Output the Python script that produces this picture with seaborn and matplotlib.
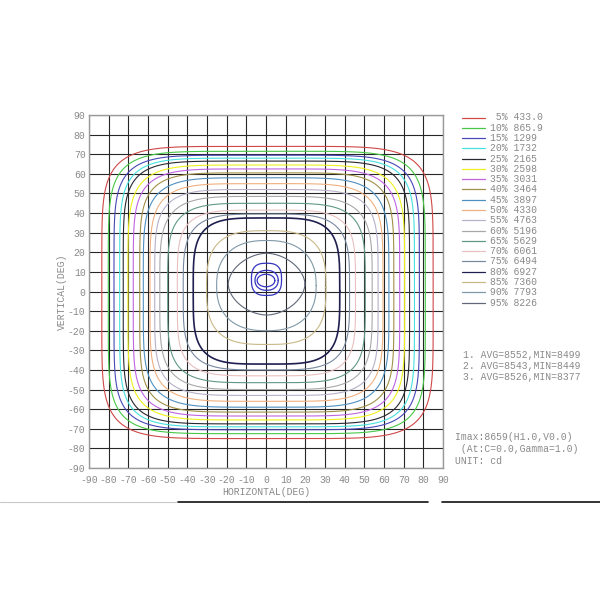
import numpy as np
import pandas as pd
import matplotlib.pyplot as plt
import seaborn as sns

sns.set_style('white')
plt.rcParams['font.family'] = ['Liberation Mono', 'DejaVu Sans Mono']

# isocandela levels (Imax = 8659 cd)
imax = 8659
percents = [5, 10, 15, 20, 25, 30, 35, 40, 45, 50, 55, 60, 65, 70, 75, 80, 85, 90, 95]
level_values = ['433.0', '865.9', '1299', '1732', '2165', '2598', '3031', '3464', '3897',
                '4330', '4763', '5196', '5629', '6061', '6494', '6927', '7360', '7793', '8226']

# contour extents (deg): left/right on H axis, top/bottom on V axis
left_ext = [-83.5, -80.2, -77.3, -74.4, -72.6, -70.2, -67.5, -64.2, -62.4, -59.0,
            -56.6, -54.0, -50.0, -45.1, -42.1, -37.0, -30.2, -25.1, -19.2]
right_ext = [85.0, 81.0, 78.0, 75.5, 73.0, 70.5, 68.0, 65.0, 62.5, 59.5,
             57.0, 54.0, 50.5, 45.5, 42.5, 37.5, 30.5, 25.5, 19.8]
top_ext = [74.0, 71.5, 69.5, 68.0, 66.5, 64.5, 62.5, 60.5, 58.0, 55.0,
           52.0, 48.5, 45.0, 41.5, 39.5, 37.5, 31.0, 26.0, 19.5]
bottom_ext = [-75.0, -72.5, -70.5, -69.0, -67.5, -65.5, -63.5, -61.5, -59.0, -56.0,
              -53.0, -50.0, -46.5, -43.0, -40.0, -37.0, -27.0, -20.0, -12.0]
# squareness of each contour
squareness = [6, 6, 6, 6, 6, 5.5, 5.5, 5.5, 5, 5, 5, 4.5, 4.5, 4.5, 4, 4, 3, 2.4, 1.8]

level_colors = ['#d04848', '#48c848', '#4848b8', '#48e0e0', '#282830', '#f0f020',
                '#c064e0', '#a09048', '#5090c0', '#f0b080', '#b8b0c8', '#a8a8a8',
                '#609888', '#e8c0c0', '#7888a0', '#202050', '#c8b888', '#8098a8', '#606878']

# small peak rings near the centre (h left, h right, v top, v bottom)
ring_left = [-7.4, -5.6, -4.5]
ring_right = [7.9, 6.2, 4.5]
ring_top = [14.4, 10.8, 8.8]
ring_bottom = [-2.0, 0.6, 2.4]
ring_shape = [2.8, 2.2, 2.0]

stats = ['1. AVG=8552,MIN=8499', '2. AVG=8543,MIN=8449', '3. AVG=8526,MIN=8377']
info = ['Imax:8659(H1.0,V0.0)', ' (At:C=0.0,Gamma=1.0)', 'UNIT: cd']


def contour_frame(l, r, t, b, n):
    # closed curve through the four read extents
    th = np.linspace(0, 2 * np.pi, 400)
    c, s = np.cos(th), np.sin(th)
    hc, vc = (l + r) / 2, (t + b) / 2
    h = hc + np.sign(c) * np.abs(c) ** (2.0 / n) * (r - l) / 2
    v = vc + np.sign(s) * np.abs(s) ** (2.0 / n) * (t - b) / 2
    return pd.DataFrame({'H': h, 'V': v})


fig = plt.figure(figsize=(6, 6), dpi=100)
ax = fig.add_axes([89 / 600, 132 / 600, 354 / 600, 353 / 600])

for i, p in enumerate(percents):
    d = contour_frame(left_ext[i], right_ext[i], top_ext[i], bottom_ext[i], squareness[i])
    lw = 1.2 if p == 80 else 0.8
    sns.lineplot(data=d, x='H', y='V', sort=False, estimator=None, color=level_colors[i],
                 linewidth=lw, ax=ax, zorder=3)

for i in range(len(ring_left)):
    d = contour_frame(ring_left[i], ring_right[i], ring_top[i], ring_bottom[i], ring_shape[i])
    sns.lineplot(data=d, x='H', y='V', sort=False, estimator=None, color='#3535c0',
                 linewidth=0.9, ax=ax, zorder=3)

ticks = list(range(-90, 91, 10))
ax.set_xlim(-90, 90)
ax.set_ylim(-90, 90)
ax.set_xticks(ticks)
ax.set_yticks(ticks)
ax.set_xticklabels([str(t) for t in ticks], fontsize=7, color='#8a8a8a')
ax.set_yticklabels([str(t) for t in ticks], fontsize=7, color='#8a8a8a')
ax.tick_params(axis='y', length=0, pad=2.5)
ax.tick_params(axis='x', length=0, pad=5)
ax.grid(True, color='#262626', linewidth=0.8, zorder=1)
ax.set_axisbelow(True)
for sp in ax.spines.values():
    sp.set_color('#9a9a9a')
    sp.set_linewidth(1.0)
ax.set_xlabel('HORIZONTAL(DEG)', fontsize=7, color='#8a8a8a', labelpad=1.7)
ax.set_ylabel('VERTICAL(DEG)', fontsize=7, color='#8a8a8a', labelpad=1)

# overlay in pixel coordinates for the legend and notes
ov = fig.add_axes([0, 0, 1, 1], zorder=5)
ov.set_xlim(0, 600)
ov.set_ylim(600, 0)
ov.axis('off')
ov.patch.set_alpha(0)

row_y = 117.5
for i, p in enumerate(percents):
    y = row_y + i * 10.28
    ov.plot([462, 485], [y, y], color=level_colors[i], linewidth=0.9)
    ov.text(490, y, f'{p:>2d}% {level_values[i]}', fontsize=7, color='#8a8a8a', va='center')

for i, s in enumerate(stats):
    ov.text(463, 355 + i * 11, s, fontsize=7, color='#8a8a8a', va='center')

for i, s in enumerate(info):
    ov.text(455, 437 + i * 12, s, fontsize=7, color='#8a8a8a', va='center')

ov.plot([0, 176], [502, 502], color='#c8c8c8', linewidth=0.8)
ov.plot([178, 428], [502, 502], color='#111111', linewidth=1.2)
ov.plot([442, 600], [502, 502], color='#111111', linewidth=1.2)

fig.savefig('out.png', dpi=100)
